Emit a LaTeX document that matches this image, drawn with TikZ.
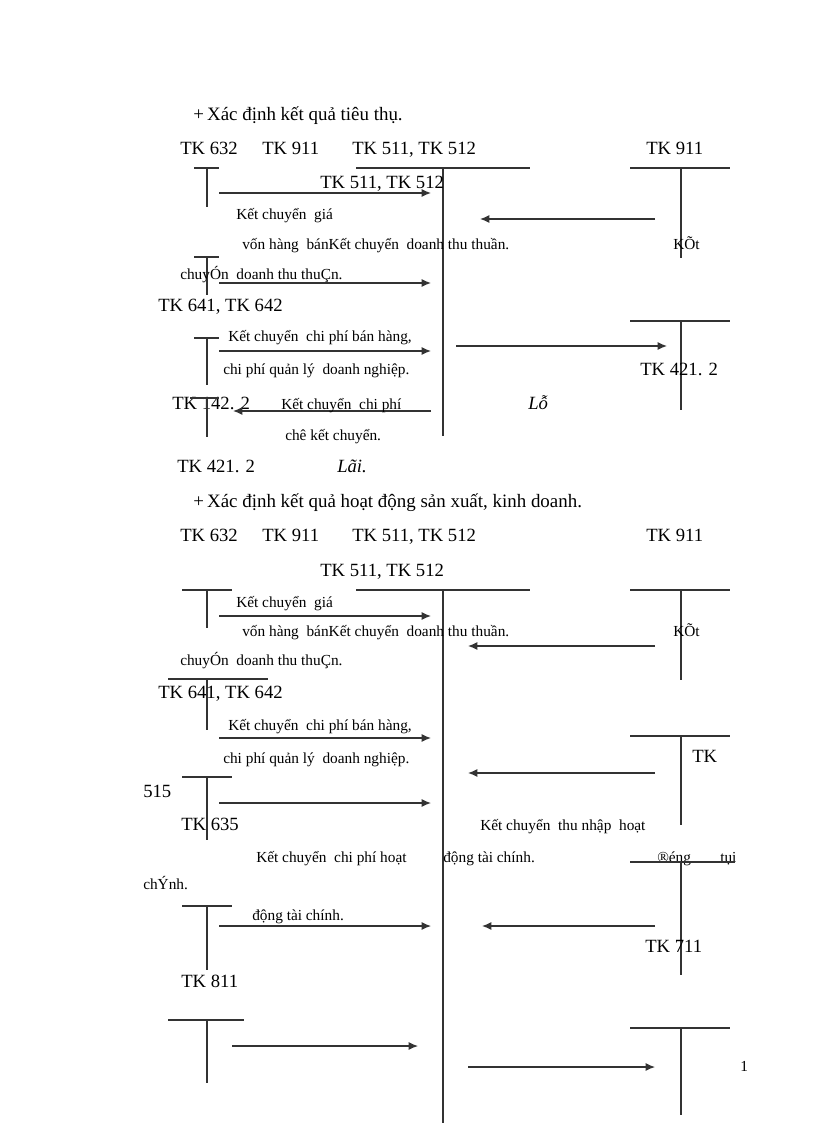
\documentclass[tikz,border=0pt]{standalone}
\usepackage{fontspec}
\setmainfont{Liberation Serif}
\usetikzlibrary{arrows.meta}
\begin{document}
\begin{tikzpicture}[x=0.75pt,y=-0.75pt,
  big/.style={anchor=base west,inner sep=0,yshift=-4.5pt,font=\fontsize{14}{16}\selectfont},
  ttl/.style={anchor=base west,inner sep=0,yshift=-4.5pt,font=\fontsize{14.2}{16}\selectfont},
  sm/.style={anchor=base west,inner sep=0,yshift=-3.5pt,font=\fontsize{11.5}{13}\selectfont},
  ln/.style={line width=0.9pt,black!80},
  ar/.style={line width=0.9pt,black!80,-{Latex[length=7pt,width=6pt]}}]
\useasboundingbox (0,0) rectangle (816,1123);
% ---- section 1
\node[ttl] (t1) at (193,115) {+\,Xác định kết quả tiêu thụ.};
\node[big] (a1) at (180,149) {TK 632};
\node[big] (a2) at (262,149) {TK 911};
\node[big] (a3) at (352,149) {TK 511, TK 512};
\node[big] (a4) at (646,149) {TK 911};
\draw[ln] (194,168)--(219,168) (207,168)--(207,207);
\draw[ln] (356,168)--(530,168) (443,168)--(443,436);
\draw[ln] (630,168)--(730,168) (681,168)--(681,258);
\node[big] (a5) at (320,183) {TK 511, TK 512};
\draw[ar] (219,193)--(431,193);
\node[sm] (b1) at (236,215) {Kết chuyển\ \ giá};
\draw[ar] (655,219)--(480,219);
\node[sm] (b2) at (242,245) {vốn hàng\ \ bánKết chuyển\ \ doanh\ thu\ thuần.};
\node[sm] (b3) at (673,245) {KÕt};
\draw[ln] (194,257)--(219,257) (207,257)--(207,295);
\node[sm] (b4) at (180,275) {chuyÓn\ \ doanh\ thu\ thuÇn.};
\draw[ar] (219,283)--(431,283);
\node[big] (a6) at (158,305) {TK 641, TK 642};
\draw[ln] (194,338)--(219,338) (207,338)--(207,385);
\node[sm] (b5) at (228,337) {Kết chuyển\ \ chi\ phí\ bán\ hàng,};
\draw[ar] (219,351)--(431,351);
\draw[ar] (456,346)--(667,346);
\draw[ln] (630,321)--(730,321) (681,321)--(681,410);
\node[sm] (b6) at (223,370) {chi\ phí\ quản\ lý\ \ doanh\ nghiệp.};
\node[big] (a7) at (640,369) {TK 421. 2};
\node[big] (a8) at (172,403) {TK 142. 2};
\draw[ln] (190,398)--(219,398) (207,398)--(207,437);
\draw[ar] (431,411)--(233,411);
\node[sm] (b7) at (281,405) {Kết chuyển\ \ chi\ phí};
\node[big,font=\fontsize{14}{16}\selectfont\itshape] (b8) at (528,403) {Lỗ};
\node[sm] (b9) at (285,436) {chê kết chuyển.};
\node[big] (a9) at (177,466) {TK 421. 2};
\node[big,font=\fontsize{14}{16}\selectfont\itshape] (b10) at (337,466) {Lãi.};
% ---- section 2
\node[ttl] (t2) at (193,501) {+\,Xác định kết quả hoạt động sản xuất, kinh\ doanh.};
\node[big] (c1) at (180,535) {TK 632};
\node[big] (c2) at (262,535) {TK 911};
\node[big] (c3) at (352,535) {TK 511, TK 512};
\node[big] (c4) at (646,535) {TK 911};
\node[big] (c5) at (320,570) {TK 511, TK 512};
\draw[ln] (182,590)--(232,590) (207,590)--(207,628);
\draw[ln] (356,590)--(530,590) (443,590)--(443,1123);
\draw[ln] (630,590)--(730,590) (681,590)--(681,680);
\node[sm] (d1) at (236,603) {Kết chuyển\ \ giá};
\draw[ar] (219,616)--(431,616);
\node[sm] (d2) at (242,632) {vốn hàng\ \ bánKết chuyển\ \ doanh\ thu\ thuần.};
\node[sm] (d3) at (673,632) {KÕt};
\draw[ar] (655,646)--(468,646);
\node[sm] (d4) at (180,661) {chuyÓn\ \ doanh\ thu\ thuÇn.};
\draw[ln] (168,679)--(268,679) (207,679)--(207,730);
\node[big] (c6) at (158,692) {TK 641, TK 642};
\node[sm] (d5) at (228,726) {Kết chuyển\ \ chi\ phí\ bán\ hàng,};
\draw[ar] (219,738)--(431,738);
\draw[ln] (630,736)--(730,736) (681,736)--(681,825);
\node[big] (c7) at (692,756) {TK};
\node[sm] (d6) at (223,759) {chi\ phí\ quản\ lý\ \ doanh\ nghiệp.};
\draw[ar] (655,773)--(468,773);
\draw[ln] (182,777)--(232,777) (207,777)--(207,840);
\node[big] (c8) at (143,791) {515};
\draw[ar] (219,803)--(431,803);
\node[big] (c9) at (181,824) {TK 635};
\node[sm] (d7) at (480,826) {Kết chuyển\ \ thu\ nhập\ \ hoạt};
\node[sm] (d8) at (256,858) {Kết chuyển\ \ chi\ phí\ hoạt};
\node[sm] (d9) at (443,858) {động tài chính.};
\node[sm] (d10) at (657,858) {®éng};
\node[sm] (d11) at (720,858) {tụi};
\draw[ln] (630,862)--(735,862) (681,862)--(681,975);
\node[sm] (d12) at (143,885) {chÝnh.};
\draw[ln] (182,906)--(232,906) (207,906)--(207,970);
\node[sm] (d13) at (252,916) {động tài chính.};
\draw[ar] (219,926)--(431,926);
\draw[ar] (655,926)--(482,926);
\node[big] (c10) at (645,946) {TK 711};
\node[big] (c11) at (181,981) {TK 811};
\draw[ln] (168,1020)--(244,1020) (207,1020)--(207,1083);
\draw[ar] (232,1046)--(418,1046);
\draw[ln] (630,1028)--(730,1028) (681,1028)--(681,1115);
\draw[ar] (468,1067)--(655,1067);
\node[sm] (pg) at (740,1067) {1};
\end{tikzpicture}
\end{document}
